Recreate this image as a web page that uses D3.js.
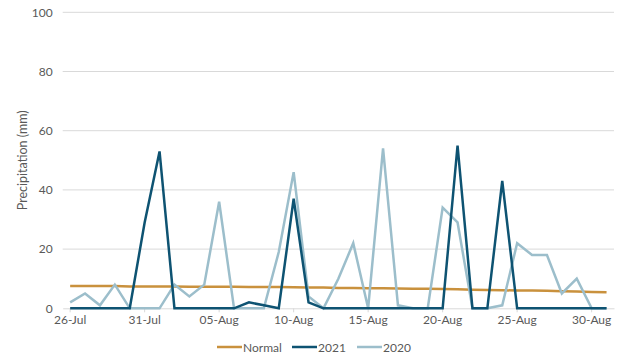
<!DOCTYPE html>
<html><head><meta charset="utf-8">
<script src="https://cdn.jsdelivr.net/npm/d3@7"></script>
<style>body{margin:0;background:#fff;} svg{display:block;font-family:Lato,"Open Sans",sans-serif;}</style>
</head><body><svg id="c" width="628" height="355"></svg>
<script>
const dates = ["26-Jul","27-Jul","28-Jul","29-Jul","30-Jul","31-Jul","01-Aug","02-Aug","03-Aug","04-Aug","05-Aug","06-Aug","07-Aug","08-Aug","09-Aug","10-Aug","11-Aug","12-Aug","13-Aug","14-Aug","15-Aug","16-Aug","17-Aug","18-Aug","19-Aug","20-Aug","21-Aug","22-Aug","23-Aug","24-Aug","25-Aug","26-Aug","27-Aug","28-Aug","29-Aug","30-Aug","31-Aug"];
const normal = [7.5,7.5,7.5,7.5,7.4,7.4,7.4,7.4,7.3,7.3,7.3,7.3,7.2,7.2,7.2,7.1,7.0,7.0,6.9,6.9,6.8,6.8,6.7,6.6,6.6,6.5,6.4,6.3,6.2,6.1,6.0,6.0,5.9,5.8,5.7,5.5,5.4];
const y2021 = [0,0,0,0,0,29,53,0,0,0,0,0,2,1,0,37,2,0,0,0,0,0,0,0,0,0,55,0,0,43,0,0,0,0,0,0,0];
const y2020 = [2,5,1,8,0,0,0,8,4,8,36,0,0,0,19,46,4,0,10,22,0,54,1,0,0,34,29,0,0,1,22,18,18,5,10,0,0];
const yTicks = [0,20,40,60,80,100];
const tickLabels = ["26-Jul","31-Jul","05-Aug","10-Aug","15-Aug","20-Aug","25-Aug","30-Aug"];
const seriesNames = ["Normal","2021","2020"];
const colors = {"Normal":"#C9913D","2021":"#0E5372","2020":"#9CBECB"};

const svg = d3.select("#c");
const L = 62.7, R = 614, T = 12.3, B = 308.3;
const x = d3.scaleBand().domain(dates).range([L, R]);
const y = d3.scaleLinear().domain([0,100]).range([B, T]);
const cx = d => x(d) + x.bandwidth()/2;

// gridlines
svg.append("g").selectAll("line").data(yTicks.filter(t=>t>0)).join("line")
  .attr("x1", L).attr("x2", R).attr("y1", d=>y(d)).attr("y2", d=>y(d))
  .attr("stroke","#d9d9d9").attr("stroke-width",1);
// y axis
const ya = svg.append("g").attr("transform",`translate(${L},0)`)
  .call(d3.axisLeft(y).tickValues(yTicks).tickSize(0).tickPadding(10));
ya.select(".domain").remove();
ya.selectAll("text").attr("fill","#595959").style("font-size","12px").style("font-family","Lato");
// x axis
const xa = svg.append("g").attr("transform",`translate(0,${B})`)
  .call(d3.axisBottom(x).tickValues(tickLabels).tickSize(4).tickPadding(3).tickSizeOuter(0));
xa.select(".domain").attr("stroke","#d9d9d9");
xa.selectAll(".tick line").attr("stroke","#d9d9d9");
xa.selectAll("text").attr("fill","#595959").style("font-size","12px").style("font-family","Lato");
// y label
svg.append("text").attr("transform",`translate(27,${(T+B)/2}) rotate(-90)`)
  .attr("text-anchor","middle").attr("fill","#595959").style("font-size","12.5px")
  .text("Precipitation (mm)");

const line = d3.line().x((d,i)=>cx(dates[i])).y(d=>y(d));
const data = {"Normal":normal,"2021":y2021,"2020":y2020};
["Normal","2020","2021"].forEach(k=>{
  svg.append("path").attr("d", line(data[k])).attr("fill","none")
    .attr("stroke",colors[k]).attr("stroke-width",2.5).attr("stroke-linejoin","miter");
});

// legend
const lg = svg.append("g");
const lx = [217, 292, 357];
seriesNames.forEach((n,i)=>{
  lg.append("line").attr("x1",lx[i]).attr("x2",lx[i]+25).attr("y1",347).attr("y2",347)
    .attr("stroke",colors[n]).attr("stroke-width",2.5);
  lg.append("text").attr("x",lx[i]+26).attr("y",351.5).attr("fill","#595959")
    .style("font-size","12px").text(n);
});
</script></body></html>
